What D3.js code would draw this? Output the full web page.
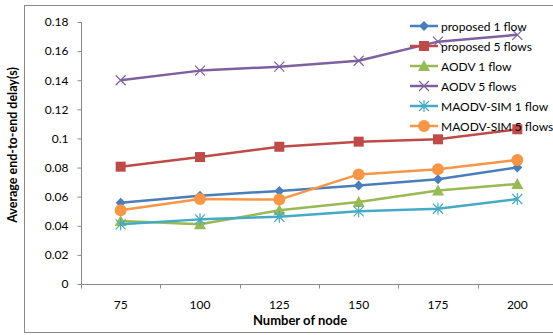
<!DOCTYPE html>
<html lang="en">
<head>
<meta charset="utf-8">
<script src="https://d3js.org/d3.v7.min.js"></script>
<style>
  body { margin: 0; background: #fff; }
  svg text { font-family: Lato, "Open Sans", sans-serif; fill: #000; }
</style>
</head>
<body>
<div class="chartDiv"></div>
<script>

var nodes = ["75", "100", "125", "150", "175", "200"];
var yTicks = [0, 0.02, 0.04, 0.06, 0.08, 0.1, 0.12, 0.14, 0.16, 0.18];

var proposed1 = [0.0559, 0.0607, 0.0639, 0.0676, 0.0719, 0.0801];
var proposed5 = [0.0806, 0.0872, 0.0943, 0.0978, 0.0994, 0.1063];
var aodv1 = [0.0433, 0.0410, 0.0506, 0.0563, 0.0643, 0.0687];
var aodv5 = [0.1400, 0.1466, 0.1493, 0.1534, 0.1665, 0.1712];
var maodv1 = [0.0410, 0.0444, 0.0462, 0.0499, 0.0517, 0.0584];
var maodv5 = [0.0506, 0.0584, 0.0580, 0.0753, 0.0788, 0.0852];

var seriesNames = ["proposed 1 flow", "proposed 5 flows", "AODV 1 flow", "AODV 5 flows", "MAODV-SIM 1 flow", "MAODV-SIM 5 flows"];
var seriesValues = [proposed1, proposed5, aodv1, aodv5, maodv1, maodv5];
var seriesColors = ["#4a7ebb", "#be4b48", "#98b954", "#7d60a0", "#46aac5", "#f79646"];
var seriesMarkers = ["diamond", "square", "triangle", "x", "star", "circle"];

var w = 553, h = 335;

var svg = d3.select(".chartDiv")
  .append("svg")
  .attr("width", w)
  .attr("height", h);

// outer chart border (cut off on the right)
svg.append("rect")
  .attr("x", 24.5).attr("y", 5.5)
  .attr("width", 540).attr("height", 327)
  .attr("fill", "none")
  .attr("stroke", "#8a8a8a");

var x = d3.scaleBand()
  .domain(nodes)
  .range([81, 557]);

var y = d3.scaleLinear()
  .domain([0, 0.18])
  .range([284, 22]);

// y axis
var yAxis = svg.append("g")
  .attr("transform", "translate(81.5,0)")
  .call(d3.axisLeft(y).tickValues(yTicks).tickSize(4).tickPadding(9)
    .tickFormat(function(d){ return d === 0 ? "0" : String(+d.toFixed(2)); }));
yAxis.select(".domain").attr("stroke", "#8a8a8a").attr("d", "M0," + y(0.18) + "V" + y(0));
yAxis.selectAll(".tick line").attr("stroke", "#8a8a8a");
yAxis.selectAll(".tick text").attr("font-size", 12);

// x axis
var xAxis = svg.append("g")
  .attr("transform", "translate(0,284.5)")
  .call(d3.axisBottom(x).tickSize(0).tickPadding(16));
xAxis.select(".domain").attr("stroke", "#8a8a8a").attr("d", "M81,0H553");
xAxis.selectAll(".tick text").attr("font-size", 12);

// tick marks between categories
xAxis.selectAll("line.sep")
  .data(nodes)
  .enter().append("line")
  .attr("class", "sep")
  .attr("x1", function(d){ return Math.round(x(d)) + 0.5; })
  .attr("x2", function(d){ return Math.round(x(d)) + 0.5; })
  .attr("y1", 0).attr("y2", 4)
  .attr("stroke", "#8a8a8a");

// axis titles
svg.append("text")
  .attr("x", 300).attr("y", 325)
  .attr("text-anchor", "middle")
  .attr("font-size", 13).attr("font-weight", "bold")
  .text("Number of node");

svg.append("text")
  .attr("transform", "translate(17,145) rotate(-90)")
  .attr("text-anchor", "middle")
  .attr("font-size", 12.5).attr("font-weight", "bold")
  .text("Average end-to-end delay(s)");

function drawMarker(g, type, color) {
  if (type === "diamond") {
    g.append("path").attr("d", "M0,-5L5,0L0,5L-5,0Z").attr("fill", color);
  } else if (type === "square") {
    g.append("rect").attr("x", -5).attr("y", -5).attr("width", 10).attr("height", 10).attr("fill", color);
  } else if (type === "triangle") {
    g.append("path").attr("d", "M0,-6L6,5L-6,5Z").attr("fill", color);
  } else if (type === "circle") {
    g.append("circle").attr("r", 6).attr("fill", color);
  } else if (type === "x") {
    g.append("path").attr("d", "M-5,-5L5,5M-5,5L5,-5").attr("stroke", color).attr("stroke-width", 1.2);
  } else if (type === "star") {
    g.append("path").attr("d", "M-5,-5L5,5M-5,5L5,-5M0,-6V6").attr("stroke", color).attr("stroke-width", 1.2);
  }
}

var line = d3.line()
  .x(function(d, i){ return x(nodes[i]) + x.bandwidth() / 2; })
  .y(function(d){ return y(d); });

seriesValues.forEach(function(vals, s) {
  svg.append("path")
    .attr("d", line(vals))
    .attr("fill", "none")
    .attr("stroke", seriesColors[s])
    .attr("stroke-width", 2.5)
    .attr("stroke-linejoin", "round");
  vals.forEach(function(v, i) {
    var g = svg.append("g")
      .attr("transform", "translate(" + (x(nodes[i]) + x.bandwidth() / 2) + "," + y(v) + ")");
    drawMarker(g, seriesMarkers[s], seriesColors[s]);
  });
});

// legend
var legend = svg.selectAll("g.legend")
  .data(seriesNames)
  .enter().append("g")
  .attr("class", "legend")
  .attr("transform", function(d, i){ return "translate(410," + (26 + i * 20) + ")"; });

legend.append("line")
  .attr("x1", 0).attr("x2", 28)
  .attr("stroke", function(d, i){ return seriesColors[i]; })
  .attr("stroke-width", 2.5);

legend.each(function(d, i) {
  var g = d3.select(this).append("g").attr("transform", "translate(14,0)");
  drawMarker(g, seriesMarkers[i], seriesColors[i]);
});

legend.append("text")
  .attr("x", 31).attr("y", 4.5)
  .attr("font-size", 12)
  .text(function(d){ return d; });

</script>
</body>
</html>
